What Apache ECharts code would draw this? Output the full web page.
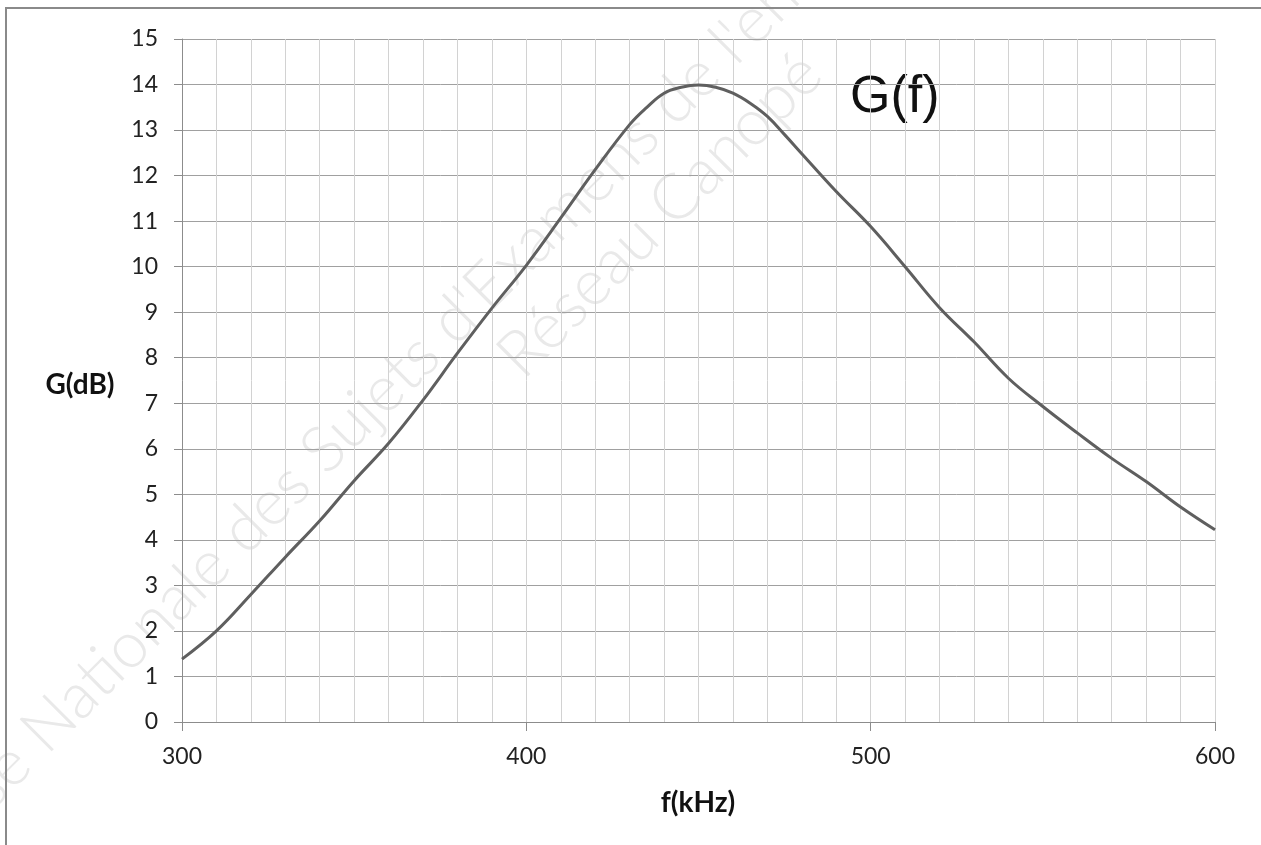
<!DOCTYPE html>
<html>
<head>
<meta charset="utf-8">
<script src="https://cdn.jsdelivr.net/npm/echarts@6/dist/echarts.min.js"></script>
<style>
html,body{margin:0;padding:0;background:#fff;}
#chart{width:1261px;height:845px;}
</style>
</head>
<body>
<div id="chart"></div>
<script>
// Frequencies (kHz) and gain values (dB)
const freqs = [300, 310, 320, 330, 340, 350, 360, 370, 380, 390, 400, 410, 420, 430, 435, 440, 445, 450, 455, 460, 465, 470, 475, 480, 490, 500, 510, 520, 530, 540, 550, 560, 570, 580, 590, 600];
const gains = [1.38, 2.0, 2.8, 3.62, 4.42, 5.3, 6.12, 7.07, 8.1, 9.09, 10.03, 11.07, 12.13, 13.12, 13.5, 13.81, 13.94, 13.99, 13.94, 13.81, 13.59, 13.3, 12.9, 12.48, 11.65, 10.88, 10.0, 9.1, 8.35, 7.55, 6.93, 6.35, 5.79, 5.28, 4.72, 4.22];
const xRange = [300, 600];
const yRange = [0, 15];
const seriesName = 'G(f)';
const xTitle = 'f(kHz)';
const yTitle = 'G(dB)';
const watermark1 = "Base Nationale des Sujets d'Examens de l'enseignement professionnel";
const watermark2 = 'Réseau Canopé';

const chart = echarts.init(document.getElementById('chart'), null, {renderer: 'canvas'});
const pts = freqs.map((f, i) => [f, gains[i]]);

chart.setOption({
  animation: false,
  backgroundColor: '#ffffff',
  grid: {left: 182, right: 46, top: 39, bottom: 123, containLabel: false},
  xAxis: {
    type: 'value', min: xRange[0], max: xRange[1], interval: 100,
    axisLine: {show: true, lineStyle: {color: '#8c8c8c', width: 1}},
    axisTick: {show: true, length: 9, lineStyle: {color: '#8c8c8c'}},
    axisLabel: {fontFamily: 'Lato', fontSize: 23, color: '#222', margin: 23},
    splitLine: {show: true, lineStyle: {color: '#d2d2d2', width: 1}},
    minorTick: {show: false, splitNumber: 10},
    minorSplitLine: {show: true, lineStyle: {color: '#d2d2d2', width: 1}}
  },
  yAxis: {
    type: 'value', min: yRange[0], max: yRange[1], interval: 1,
    axisLine: {show: true, lineStyle: {color: '#8c8c8c', width: 1}},
    axisTick: {show: true, length: 8, lineStyle: {color: '#8c8c8c'}},
    axisLabel: {fontFamily: 'Lato', fontSize: 23, color: '#222', margin: 24},
    splitLine: {show: true, lineStyle: {color: '#a0a0a0', width: 1}}
  },
  graphic: [
    {type: 'rect', z: 100, shape: {x: 6, y: 8, width: 1400, height: 1000},
     style: {fill: 'none', stroke: '#8a8a8a', lineWidth: 2}},
    {type: 'text', z: -10, x: 606, y: 168, rotation: Math.PI / 4,
     style: {text: watermark1, font: '300 64px Lato', fill: '#e9e9e9', align: 'center', verticalAlign: 'middle'}},
    {type: 'text', z: -10, x: 660, y: 215, rotation: Math.PI / 4,
     style: {text: watermark2, font: '300 64px Lato', fill: '#e9e9e9', align: 'center', verticalAlign: 'middle'}},
    {type: 'text', x: 80, y: 385,
     style: {text: yTitle, font: 'bold 28px Lato', fill: '#111', align: 'center', verticalAlign: 'middle'}},
    {type: 'text', x: 698, y: 803,
     style: {text: xTitle, font: 'bold 28px Lato', fill: '#111', align: 'center', verticalAlign: 'middle'}},
    {type: 'text', x: 850, y: 98,
     style: {text: seriesName, font: '52px "Liberation Sans"', fill: '#111', align: 'left', verticalAlign: 'middle'}}
  ],
  series: [{
    name: seriesName, type: 'line', data: pts, showSymbol: false, smooth: 0.4,
    lineStyle: {color: '#5f5f5f', width: 3}, z: 5
  }]
});
</script>
</body>
</html>
